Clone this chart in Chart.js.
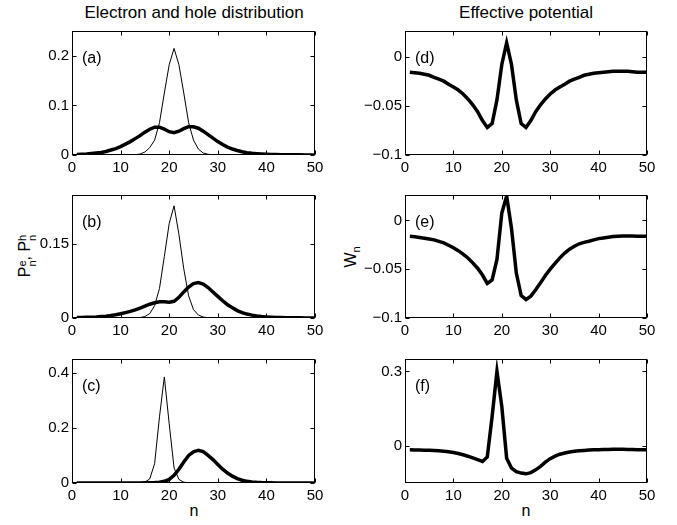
<!DOCTYPE html>
<html>
<head>
<meta charset="utf-8">
<script src="https://cdn.jsdelivr.net/npm/chart.js@4.4.1/dist/chart.umd.min.js"></script>
<style>
  body { margin: 0; background: #fff; width: 677px; height: 525px; position: relative; overflow: hidden;
         font-family: "Liberation Sans", Arial, Helvetica, sans-serif; color: #000; }
  canvas { position: absolute; }
  .txt { position: absolute; white-space: nowrap; transform: translate(-50%, -50%); }
  .title { font-size: 17px; }
  .xlab { font-size: 16px; }
  .ylab { font-size: 16px; transform: translate(-50%, -50%) rotate(-90deg); }
  .ss { display: inline-block; font-size: 11px; line-height: 10px; vertical-align: -6px; text-align: left; }
  .sub { font-size: 11px; vertical-align: -4px; }
</style>
</head>
<body>

<div class="txt title" style="left:194px; top:13px;">Electron and hole distribution</div>
<div class="txt title" style="left:526px; top:13px;">Effective potential</div>
<div class="txt xlab" style="left:194px; top:511px;">n</div>
<div class="txt xlab" style="left:526px; top:511px;">n</div>
<div class="txt ylab" style="left:26px; top:256px;">P<span class="ss">e<br>n</span>, P<span class="ss">h<br>n</span></div>
<div class="txt ylab" style="left:352px; top:257px;">W<span class="sub">n</span></div>

<script>
// site index n = 1..50
const nValues = [];
for (let i = 1; i <= 50; i++) nValues.push(i);

const xTicks = [0, 10, 20, 30, 40, 50];

// (a) distributions
const thinA = [0,0,0,0,0,0,0,0,0,0, 0,0,0.0005,0.002,0.006,0.015,0.03,0.065,0.125,0.182,
  0.215,0.182,0.125,0.065,0.03,0.012,0.004,0.0015,0.0005,0, 0,0,0,0,0,0,0,0,0,0, 0,0,0,0,0,0,0,0,0,0];
const thickA = [0.001,0.0015,0.002,0.003,0.004,0.005,0.007,0.01,0.013,0.017,
  0.022,0.027,0.033,0.039,0.046,0.052,0.056,0.056,0.052,0.047,
  0.045,0.048,0.053,0.057,0.057,0.054,0.048,0.041,0.034,0.027,
  0.021,0.016,0.012,0.009,0.0065,0.0047,0.0034,0.0025,0.0018,0.0013,
  0.001,0.0008,0.0006,0.0005,0.0004,0.0003,0.0003,0.0002,0.0002,0.0002];

// (b) distributions
const thinB = [0,0,0,0,0,0,0,0,0,0, 0,0,0,0.0008,0.003,0.009,0.025,0.06,0.125,0.192,
  0.228,0.17,0.1,0.045,0.017,0.006,0.002,0.0006,0,0, 0,0,0,0,0,0,0,0,0,0, 0,0,0,0,0,0,0,0,0,0];
const thickB = [0.0008,0.001,0.0013,0.0017,0.0022,0.003,0.0038,0.005,0.0065,0.0085,
  0.011,0.0135,0.0165,0.02,0.024,0.028,0.031,0.033,0.033,0.032,
  0.034,0.042,0.053,0.063,0.07,0.072,0.069,0.062,0.053,0.044,
  0.035,0.027,0.021,0.015,0.011,0.008,0.0058,0.0042,0.003,0.0022,
  0.0016,0.0012,0.0009,0.0007,0.0005,0.0004,0.0003,0.0002,0.0002,0.0001];

// (c) distributions
const thinC = [0,0,0,0,0,0,0,0,0,0, 0,0,0,0.0005,0.003,0.015,0.07,0.24,0.385,0.215,
  0.055,0.013,0.003,0.0008,0,0,0,0,0,0, 0,0,0,0,0,0,0,0,0,0, 0,0,0,0,0,0,0,0,0,0];
const thickC = [0,0,0,0,0,0,0,0,0,0, 0,0,0,0.0003,0.0006,0.001,0.0018,0.003,0.006,0.013,
  0.028,0.05,0.076,0.1,0.113,0.119,0.114,0.1,0.085,0.067,
  0.05,0.036,0.025,0.016,0.01,0.006,0.004,0.0025,0.0015,0.001,
  0.0006,0.0004,0.0002,0,0,0,0,0,0,0];

// (d)-(f) effective potential W_n
const wD = [-0.016,-0.0165,-0.017,-0.018,-0.019,-0.021,-0.023,-0.025,-0.028,-0.031,
  -0.034,-0.038,-0.043,-0.049,-0.056,-0.065,-0.072,-0.068,-0.044,-0.008,
  0.014,-0.008,-0.044,-0.068,-0.072,-0.065,-0.056,-0.049,-0.043,-0.038,
  -0.034,-0.031,-0.028,-0.025,-0.023,-0.021,-0.019,-0.018,-0.017,-0.0165,
  -0.016,-0.0155,-0.015,-0.015,-0.015,-0.015,-0.0155,-0.016,-0.016,-0.016];
const wE = [-0.0163,-0.0168,-0.0175,-0.0182,-0.019,-0.02,-0.0215,-0.023,-0.0255,-0.028,
  -0.031,-0.0345,-0.0385,-0.0435,-0.049,-0.056,-0.0646,-0.061,-0.04,0.0075,
  0.025,-0.008,-0.054,-0.077,-0.081,-0.0776,-0.071,-0.064,-0.0565,-0.05,
  -0.044,-0.0384,-0.0335,-0.0295,-0.0265,-0.024,-0.0225,-0.0214,-0.02,-0.0187,
  -0.018,-0.0172,-0.0166,-0.0162,-0.016,-0.016,-0.016,-0.0162,-0.0163,-0.0163];
const wF = [-0.016,-0.0165,-0.017,-0.0175,-0.018,-0.019,-0.02,-0.022,-0.024,-0.027,
  -0.031,-0.036,-0.042,-0.049,-0.056,-0.063,-0.045,0.118,0.3,0.159,
  -0.05,-0.09,-0.104,-0.11,-0.113,-0.108,-0.097,-0.083,-0.066,-0.052,
  -0.042,-0.034,-0.029,-0.025,-0.022,-0.02,-0.0185,-0.017,-0.016,-0.0155,
  -0.015,-0.0145,-0.014,-0.014,-0.014,-0.0145,-0.015,-0.0155,-0.016,-0.016];

// y tick labels per panel
const yTicksA = [0, 0.1, 0.2];
const yTicksB = [0, 0.15];
const yTicksC = [0, 0.2, 0.4];
const yTicksD = [-0.1, -0.05, 0];
const yTicksE = [-0.1, -0.05, 0];
const yTicksF = [0, 0.3];

// plot-area boxes in page pixels
const PAD_L = 75, PAD_R = 20, PAD_T = 15, PAD_B = 28;
const FONT = '"Liberation Sans", Arial, Helvetica, sans-serif';

const panels = [
  { label: '(a)', left: 72, right: 315, top: 31, bottom: 155, ymin: 0, ymax: 0.25, yTicks: yTicksA, thin: thinA, thick: thickA },
  { label: '(b)', left: 72, right: 315, top: 195, bottom: 318, ymin: 0, ymax: 0.25, yTicks: yTicksB, thin: thinB, thick: thickB },
  { label: '(c)', left: 72, right: 315, top: 359, bottom: 483, ymin: 0, ymax: 0.45, yTicks: yTicksC, thin: thinC, thick: thickC },
  { label: '(d)', left: 405, right: 647, top: 31, bottom: 155, ymin: -0.1, ymax: 0.026, yTicks: yTicksD, thick: wD },
  { label: '(e)', left: 405, right: 647, top: 195, bottom: 318, ymin: -0.1, ymax: 0.026, yTicks: yTicksE, thick: wE },
  { label: '(f)', left: 405, right: 647, top: 359, bottom: 483, ymin: -0.15, ymax: 0.35, yTicks: yTicksF, thick: wF }
];

// box with inward ticks on all four sides, plus the panel letter
const framePlugin = {
  id: 'frame',
  afterDatasetsDraw(chart, args, opts) {
    const ctx = chart.ctx;
    const a = chart.chartArea;
    const xs = chart.scales.x, ys = chart.scales.y;
    const L = Math.round(a.left) + 0.5, R = Math.round(a.right) - 0.5;
    const T = Math.round(a.top) + 0.5, B = Math.round(a.bottom) - 0.5;
    ctx.save();
    ctx.strokeStyle = '#000';
    ctx.lineWidth = 1;
    ctx.strokeRect(L, T, R - L, B - T);
    ctx.beginPath();
    xs.ticks.forEach(t => {
      const px = Math.round(xs.getPixelForValue(t.value)) + 0.5;
      ctx.moveTo(px, B); ctx.lineTo(px, B - 4);
      ctx.moveTo(px, T); ctx.lineTo(px, T + 4);
    });
    ys.ticks.forEach(t => {
      const py = Math.round(ys.getPixelForValue(t.value)) + 0.5;
      ctx.moveTo(L, py); ctx.lineTo(L + 4, py);
      ctx.moveTo(R, py); ctx.lineTo(R - 4, py);
    });
    ctx.stroke();
    ctx.fillStyle = '#000';
    ctx.font = '16px ' + FONT;
    ctx.textBaseline = 'middle';
    ctx.fillText(opts.label, a.left + 10, a.top + 28);
    ctx.restore();
  }
};

function fmt(v) {
  return v === 0 ? '0' : String(v).replace('-', '\u2212');
}

panels.forEach(p => {
  const canvas = document.createElement('canvas');
  const w = p.right - p.left + PAD_L + PAD_R;
  const h = p.bottom - p.top + PAD_T + PAD_B;
  canvas.width = w;
  canvas.height = h;
  canvas.style.width = w + 'px';
  canvas.style.height = h + 'px';
  canvas.style.left = (p.left - PAD_L) + 'px';
  canvas.style.top = (p.top - PAD_T) + 'px';
  document.body.appendChild(canvas);

  const datasets = [];
  if (p.thin) {
    datasets.push({
      data: nValues.map((n, i) => ({ x: n, y: p.thin[i] })),
      borderColor: '#000', borderWidth: 1, pointRadius: 0, tension: 0
    });
  }
  datasets.push({
    data: nValues.map((n, i) => ({ x: n, y: p.thick[i] })),
    borderColor: '#000', borderWidth: 3.5, pointRadius: 0, tension: 0
  });

  new Chart(canvas, {
    type: 'line',
    data: { datasets },
    plugins: [framePlugin],
    options: {
      responsive: false,
      animation: false,
      devicePixelRatio: 1,
      layout: { padding: { top: PAD_T, right: PAD_R, left: 0, bottom: 0 } },
      plugins: {
        legend: { display: false },
        tooltip: { enabled: false },
        frame: { label: p.label }
      },
      scales: {
        x: {
          type: 'linear', min: 0, max: 50,
          afterBuildTicks: s => { s.ticks = xTicks.map(v => ({ value: v })); },
          afterFit: s => { s.height = PAD_B; },
          grid: { display: false, drawTicks: false },
          border: { display: false },
          ticks: { color: '#000', padding: 4, maxRotation: 0, autoSkip: false,
                   font: { size: 15, family: FONT }, callback: v => fmt(v) }
        },
        y: {
          type: 'linear', min: p.ymin, max: p.ymax,
          afterBuildTicks: s => { s.ticks = p.yTicks.map(v => ({ value: v })); },
          afterFit: s => { s.width = PAD_L; },
          grid: { display: false, drawTicks: false },
          border: { display: false },
          ticks: { color: '#000', padding: 3, autoSkip: false,
                   font: { size: 15, family: FONT }, callback: v => fmt(v) }
        }
      }
    }
  });
});
</script>
</body>
</html>
